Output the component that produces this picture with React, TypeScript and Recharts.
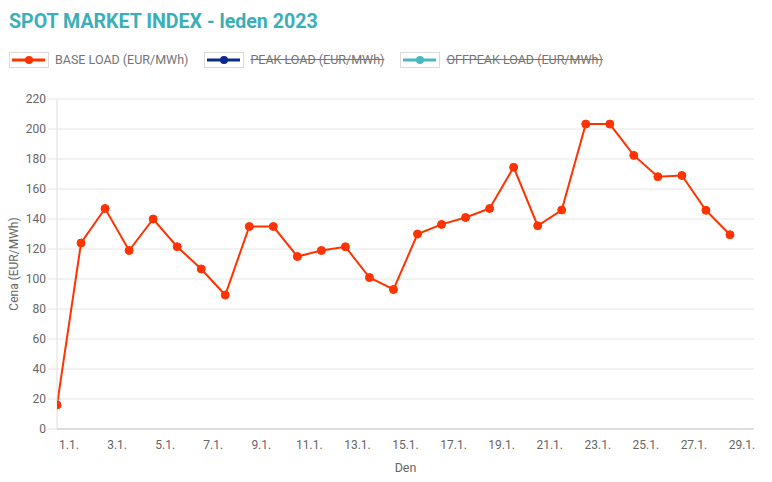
import React from 'react';
import { LineChart, Line, XAxis, YAxis, CartesianGrid } from 'recharts';

const days: number[] = [1,2,3,4,5,6,7,8,9,10,11,12,13,14,15,16,17,18,19,20,21,22,23,24,25,26,27,28,29];
const baseLoad: number[] = [16,124,147,119,140,121.5,106.7,89.3,135,135,115,119,121.5,101,93,130,136.4,141,147,174.5,135.5,146,203.3,203.3,182.4,168.2,169,145.8,129.5];
const xTickDays: number[] = [1,3,5,7,9,11,13,15,17,19,21,23,25,27,29];
const yTicks: number[] = [0,20,40,60,80,100,120,140,160,180,200,220];
const legendItems = [
  { label: 'BASE LOAD (EUR/MWh)', color: '#ff3300', hidden: false },
  { label: 'PEAK LOAD (EUR/MWh)', color: '#0b2a8c', hidden: true },
  { label: 'OFFPEAK LOAD (EUR/MWh)', color: '#4cb6c0', hidden: true },
];
const title = 'SPOT MARKET INDEX - leden 2023';
const yLabel = 'Cena (EUR/MWh)';
const xLabel = 'Den';

const data = days.map((d, i) => ({ pos: i, day: d, base: baseLoad[i] }));
const xTicks = xTickDays.map((d) => d - 0.5);

const FONT = 'Roboto, "Noto Sans", sans-serif';

const LegendSwatch = ({ color }: { color: string }) => (
  <svg width={40} height={16} style={{ display: 'block' }}>
    <rect x={0.5} y={0.5} width={39} height={15} fill="#fff" stroke="#dcdcdc" />
    <line x1={3} y1={8} x2={36} y2={8} stroke={color} strokeWidth={3} />
    <circle cx={20} cy={8} r={4} fill={color} />
  </svg>
);

export default function App() {
  return (
    <div style={{ position: 'absolute', left: 0, top: 0, width: 772, height: 482, background: '#fff', fontFamily: FONT }}>
      <div style={{ position: 'absolute', left: 9, top: 10, fontSize: 19.6, fontWeight: 700, color: '#3aafb9', lineHeight: '24px', whiteSpace: 'nowrap' }}>
        {title}
      </div>
      <div style={{ position: 'absolute', left: 9, top: 52, display: 'flex', alignItems: 'center' }}>
        {legendItems.map((it) => (
          <div key={it.label} style={{ display: 'flex', alignItems: 'center', marginRight: 16 }}>
            <LegendSwatch color={it.color} />
            <span style={{ marginLeft: 6, fontSize: 12.5, color: '#757575', textDecoration: it.hidden ? 'line-through' : 'none', whiteSpace: 'nowrap', lineHeight: '16px' }}>
              {it.label}
            </span>
          </div>
        ))}
      </div>
      <div style={{ position: 'absolute', left: 0, top: 0 }}>
        <LineChart width={772} height={482} data={data} margin={{ top: 99, right: 18, bottom: 0, left: 0 }}>
          <CartesianGrid vertical={false} stroke="#e6e6e6" />
          <XAxis
            dataKey="pos"
            type="number"
            domain={[0, 29]}
            allowDataOverflow
            ticks={xTicks}
            interval={0}
            tickFormatter={(v: number) => `${v + 0.5}.1.`}
            height={53}
            tickLine={false}
            tickSize={9}
            tickMargin={2}
            axisLine={{ stroke: '#c8c8c8' }}
            tick={{ fill: '#666', fontSize: 12, fontFamily: FONT }}
            label={{
              content: (props: any) => {
                const vb = props.viewBox;
                return (
                  <text x={vb.x + vb.width / 2} y={vb.y + 43} textAnchor="middle" fill="#666" fontSize={12.5} fontFamily={FONT}>
                    {xLabel}
                  </text>
                );
              },
            }}
          />
          <YAxis
            type="number"
            domain={[0, 220]}
            ticks={yTicks}
            interval={0}
            width={57}
            tickSize={9}
            tickMargin={2}
            tickLine={{ stroke: '#e6e6e6' }}
            axisLine={{ stroke: '#dedede' }}
            tick={{ fill: '#666', fontSize: 12, fontFamily: FONT }}
            label={{
              content: (props: any) => {
                const vb = props.viewBox;
                const cx = vb.x + 18;
                const cy = vb.y + vb.height / 2;
                return (
                  <text x={cx} y={cy} transform={`rotate(-90 ${cx} ${cy})`} textAnchor="middle" fill="#666" fontSize={12} fontFamily={FONT}>
                    {yLabel}
                  </text>
                );
              },
            }}
          />
          <Line
            type="linear"
            dataKey="base"
            stroke="#ff3300"
            strokeWidth={2}
            dot={{ r: 4, fill: '#ff3300', stroke: '#ff3300', strokeWidth: 1 }}
            activeDot={false}
            isAnimationActive={false}
          />
        </LineChart>
      </div>
    </div>
  );
}
